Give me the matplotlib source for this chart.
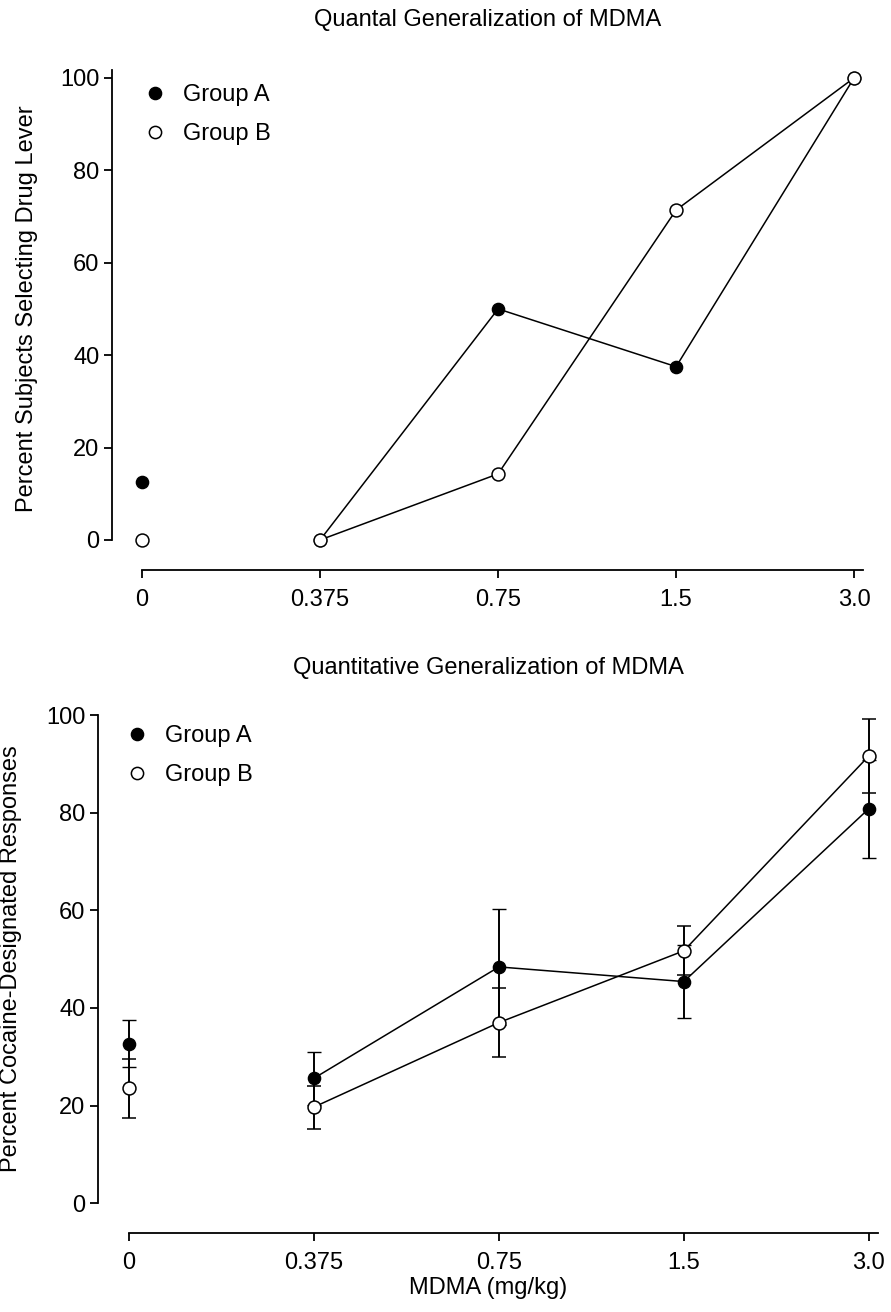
import numpy as np
import matplotlib
matplotlib.use("Agg")
import matplotlib.pyplot as plt
from matplotlib.lines import Line2D

plt.rcParams["font.family"] = ["Liberation Sans", "DejaVu Sans"]

# Doses (mg/kg) shown as evenly spaced categories
doses = ["0", "0.375", "0.75", "1.5", "3.0"]
xpos = np.arange(len(doses))

# Quantal data: percent of subjects selecting the drug lever
quantal_a = [12.5, 0.0, 50.0, 37.5, 100.0]
quantal_b = [0.0, 0.0, 14.3, 71.4, 100.0]

# Quantitative data: percent cocaine-designated responses (mean, SEM)
quant_a = [32.7, 25.6, 48.4, 45.4, 80.8]
quant_a_sem = [4.8, 5.4, 11.8, 7.4, 10.0]
quant_b = [23.5, 19.7, 37.0, 51.7, 91.6]
quant_b_sem = [6.0, 4.4, 7.1, 5.0, 7.5]

FS = 17
MS = 8.8

fig = plt.figure(figsize=(8.91, 13.12), dpi=100)


def style_axes(ax, ytop):
    for side in ["top", "right"]:
        ax.spines[side].set_visible(False)
    for side in ["left", "bottom"]:
        ax.spines[side].set_linewidth(1.3)
    ax.spines["left"].set_bounds(0, ytop)
    ax.spines["bottom"].set_bounds(0, 4.05)
    ax.set_xticks(xpos)
    ax.set_xticklabels(doses)
    ax.set_yticks([0, 20, 40, 60, 80, 100])
    ax.tick_params(axis="both", direction="out", length=6, width=1.3,
                   labelsize=FS)
    ax.tick_params(axis="x", pad=8)
    ax.tick_params(axis="y", pad=3)


# --- Quantal panel ---
ax1 = fig.add_axes([112 / 891, 1 - 570 / 1312, 751 / 891, 500 / 1312])
ax1.set_xlim(-0.169, 4.05)
ax1.set_ylim(-6.5, 101.7)

ax1.plot(xpos[1:], quantal_a[1:], color="black", lw=1.1, zorder=2)
ax1.plot(xpos[1:], quantal_b[1:], color="black", lw=1.1, zorder=2)
ax1.plot(xpos, quantal_a, ls="none", marker="o", ms=MS, mfc="black",
         mec="black", mew=1, zorder=3)
ax1.plot(xpos, quantal_b, ls="none", marker="o", ms=MS + 0.5, mfc="white",
         mec="black", mew=1.1, zorder=4)
style_axes(ax1, 101.7)
ax1.set_ylabel("Percent Subjects Selecting Drug Lever", fontsize=FS)
ax1.yaxis.set_label_coords(-0.0985, 0.522)
ax1.text(0.5, 1.10, "Quantal Generalization of MDMA", transform=ax1.transAxes,
         ha="center", va="center", fontsize=FS)

# --- Quantitative panel ---
ax2 = fig.add_axes([98 / 891, 1 - 1233 / 1312, 780 / 891, 518 / 1312])
ax2.set_xlim(-0.168, 4.05)
ax2.set_ylim(-6.1, 100.0)

ax2.plot(xpos[1:], quant_a[1:], color="black", lw=1.1, zorder=2)
ax2.plot(xpos[1:], quant_b[1:], color="black", lw=1.1, zorder=2)
ax2.errorbar(xpos, quant_a, yerr=quant_a_sem, fmt="o", ms=MS, mfc="black",
             mec="black", mew=1, ecolor="black", elinewidth=1.4, capsize=5,
             capthick=1.4, zorder=3)
ax2.errorbar(xpos, quant_b, yerr=quant_b_sem, fmt="o", ms=MS + 0.5,
             mfc="white", mec="black", mew=1.1, ecolor="black",
             elinewidth=1.4, capsize=5, capthick=1.4, zorder=4)
style_axes(ax2, 100)
ax2.set_ylabel("Percent Cocaine-Designated Responses", fontsize=FS)
ax2.yaxis.set_label_coords(-0.0974, 0.529)
ax2.set_xlabel("MDMA (mg/kg)", fontsize=FS)
ax2.xaxis.set_label_coords(0.5, -0.085)
ax2.text(0.5, 1.091, "Quantitative Generalization of MDMA",
         transform=ax2.transAxes, ha="center", va="center", fontsize=FS)

# Legends
handles = [
    Line2D([], [], ls="none", marker="o", ms=MS, mfc="black", mec="black"),
    Line2D([], [], ls="none", marker="o", ms=MS, mfc="white", mec="black",
           mew=1.1),
]
labels = ["Group A", "Group B"]
for ax, anchor in [(ax1, (143 / 891, 1 - 84 / 1312)),
                   (ax2, (125 / 891, 1 - 725 / 1312))]:
    ax.legend(handles, labels, loc="upper left", bbox_to_anchor=anchor,
              bbox_transform=fig.transFigure, frameon=False, fontsize=FS,
              handlelength=1.0, handletextpad=0.7, labelspacing=0.72,
              borderpad=0, borderaxespad=0, numpoints=1)

fig.savefig("out.png", dpi=100)
